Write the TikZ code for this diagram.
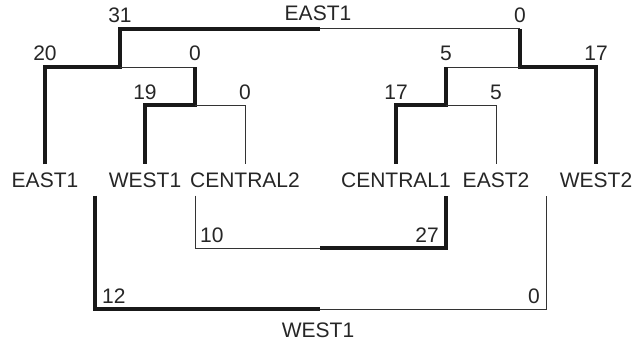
\documentclass[tikz,border=0pt]{standalone}
\usepackage{fontspec}
\setmainfont{Liberation Sans}
\usetikzlibrary{positioning}
\tikzset{
  heavy/.style={line width=3.2pt, line cap=butt, line join=miter, draw=black!90},
  light/.style={line width=1pt, line join=miter, draw=black!80},
  num/.style={font=\fontsize{21}{25}\selectfont, text=black!85, inner sep=0pt, text height=15pt, text depth=0pt}
}

\begin{document}
\begin{tikzpicture}[
            x=1pt, y=-1pt,
            leaf/.style={num, inner ysep=8pt}
            ]
            \useasboundingbox (0,0) rectangle (644,345);

            % Blaetter
            \node (east1)    [leaf] at (45,180)  {EAST1};
            \node (west1)    [leaf] at (145,180) {WEST1};
            \node (central2) [leaf] at (245,180) {CENTRAL2};
            \node (central1) [leaf] at (396,180) {CENTRAL1};
            \node (east2)    [leaf] at (496,180) {EAST2};
            \node (west2)    [leaf] at (596,180) {WEST2};

            % Knoten oben
            \coordinate (root) at (320,29);
            \coordinate (rl) at (120,29);
            \coordinate (rr) at (520,29);
            \coordinate (kl) at (120,67);
            \coordinate (kr) at (520,67);
            \coordinate (ml) at (195,105);
            \coordinate (mr) at (446,105);

            % Knoten unten
            \coordinate (inner) at (320,248);
            \coordinate (outer) at (320,309);

            \draw[heavy] (east1.north) |- (kl) -- (rl) -- (root);
            \draw[light] (root) -- (rr);
            \draw[heavy] (rr) -- (kr) -| (west2.north);
            \draw[light] (kl) -- (kl -| ml);
            \draw[heavy] (kl -| ml) -- (ml) -| (west1.north);
            \draw[light] (ml) -| (central2.north);
            \draw[light] (kr) -- (kr -| mr);
            \draw[heavy] (kr -| mr) -- (mr) -| (central1.north);
            \draw[light] (mr) -| (east2.north);

            \draw[light] ([xshift=-50pt]central2.south) |- (inner);
            \draw[heavy] (inner) -| ([xshift=50pt]central1.south);
            \draw[heavy] ([xshift=-50pt]west1.south) |- (outer);
            \draw[light] (outer) -| ([xshift=50pt]east2.south);

            % Zahlen
            \node (lroot) [num, above=8pt] at (318,29) {EAST1};
            \node (n31) [num, above=6pt] at (rl) {31};
            \node (n0a) [num, above=6pt] at (rr) {0};
            \node (n20) [num, above=6pt] at (east1.north |- kl) {20};
            \node (n0b) [num, above=6pt] at (kl -| ml) {0};
            \node (n19) [num, above=5pt] at (west1.north |- ml) {19};
            \node (n0c) [num, above=5pt] at (central2.north |- ml) {0};
            \node (n5a) [num, above=6pt] at (kr -| mr) {5};
            \node (n17a) [num, above=6pt] at (west2.north |- kr) {17};
            \node (n17b) [num, above=5pt] at (central1.north |- mr) {17};
            \node (n5b) [num, above=5pt] at (east2.north |- mr) {5};

            \node (n10) [num, anchor=south west, xshift=5pt, yshift=5pt] at (inner -| 195,0) {10};
            \node (n27) [num, anchor=south east, xshift=-7pt, yshift=5pt] at (inner -| 446,0) {27};
            \node (n12) [num, anchor=south west, xshift=7pt, yshift=5pt] at (outer -| 95,0) {12};
            \node (n0d) [num, anchor=south east, xshift=-6pt, yshift=5pt] at (outer -| 546,0) {0};
            \node (lbottom) [num, below=13pt] at (318,309) {WEST1};

      \end{tikzpicture}
\end{document}
